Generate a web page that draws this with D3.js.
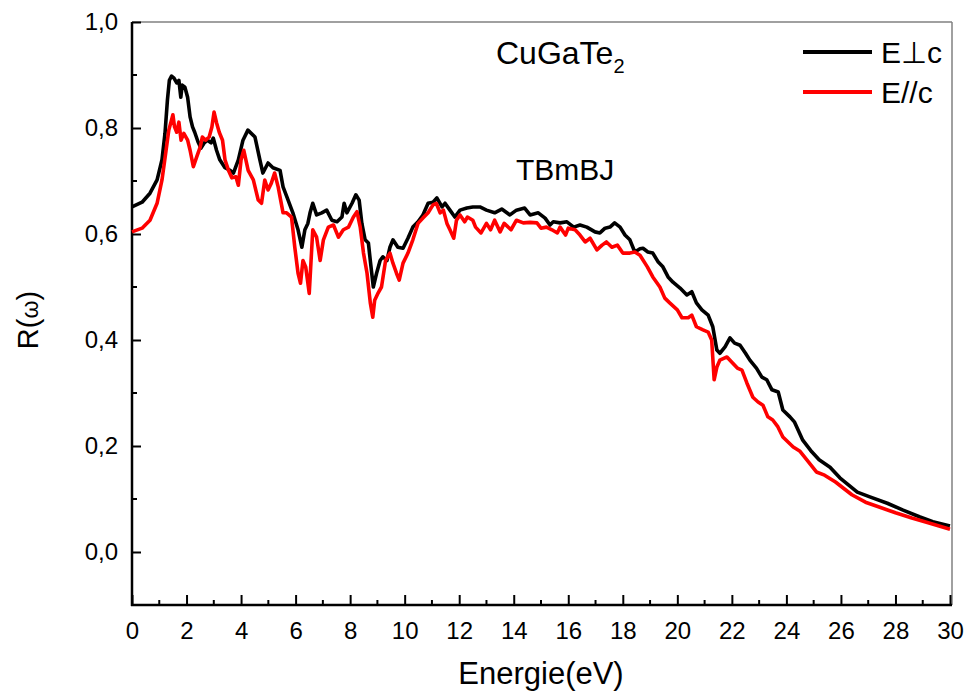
<!DOCTYPE html>
<html>
<head>
<meta charset="utf-8">
<script src="https://cdn.jsdelivr.net/npm/d3@7"></script>
<style>
  html, body { margin: 0; padding: 0; background: #fff; }
  svg text { font-family: "Liberation Sans", Arial, sans-serif; fill: #000; }
</style>
</head>
<body>
<svg id="chart" width="966" height="693"></svg>
<script>
// Reflectivity R(ω) of CuGaTe2 (TBmBJ), two polarisations
const ePerp = [0, 0.37, 0.66, 0.92, 1.1, 1.21, 1.3, 1.37, 1.45, 1.54, 1.64, 1.72, 1.79, 1.84, 1.94, 2.04, 2.13, 2.22, 2.3, 2.42, 2.53, 2.65, 2.77, 2.9, 2.98, 3.1, 3.22, 3.41, 3.6, 3.72, 3.9, 4.07, 4.25, 4.51, 4.69, 4.8, 4.99, 5.17, 5.43, 5.54, 5.68, 5.9, 6.09, 6.23, 6.34, 6.45, 6.53, 6.63, 6.77, 6.96, 7.14, 7.33, 7.52, 7.7, 7.78, 7.88, 8.07, 8.21, 8.33, 8.43, 8.55, 8.67, 8.75, 8.85, 8.97, 9.1, 9.2, 9.35, 9.46, 9.57, 9.75, 9.94, 10.12, 10.3, 10.49, 10.67, 10.86, 11.04, 11.18, 11.37, 11.48, 11.66, 11.84, 12.03, 12.28, 12.5, 12.76, 13.0, 13.3, 13.56, 13.86, 14.1, 14.4, 14.6, 14.9, 15.15, 15.33, 15.45, 15.7, 15.95, 16.2, 16.43, 16.68, 16.98, 17.16, 17.35, 17.53, 17.7, 17.9, 18.08, 18.26, 18.44, 18.63, 18.74, 18.92, 19.1, 19.3, 19.47, 19.66, 19.84, 20.1, 20.35, 20.53, 20.7, 20.9, 21.13, 21.3, 21.45, 21.56, 21.75, 21.93, 22.1, 22.3, 22.5, 22.66, 22.9, 23.1, 23.28, 23.47, 23.7, 23.87, 24.13, 24.3, 24.6, 24.93, 25.2, 25.6, 25.96, 26.6, 27.06, 27.7, 28.28, 28.9, 29.37, 30];
const rPerp = [0.651, 0.66, 0.677, 0.702, 0.74, 0.79, 0.853, 0.89, 0.898, 0.894, 0.885, 0.89, 0.858, 0.881, 0.877, 0.858, 0.821, 0.802, 0.792, 0.774, 0.762, 0.772, 0.777, 0.772, 0.781, 0.758, 0.74, 0.725, 0.72, 0.715, 0.74, 0.777, 0.796, 0.783, 0.74, 0.715, 0.734, 0.725, 0.72, 0.689, 0.67, 0.64, 0.608, 0.575, 0.608, 0.62, 0.64, 0.658, 0.636, 0.64, 0.645, 0.626, 0.623, 0.632, 0.658, 0.64, 0.658, 0.674, 0.664, 0.62, 0.589, 0.583, 0.545, 0.5, 0.526, 0.55, 0.557, 0.55, 0.575, 0.589, 0.575, 0.573, 0.592, 0.613, 0.623, 0.636, 0.658, 0.66, 0.668, 0.651, 0.658, 0.645, 0.632, 0.645, 0.649, 0.651, 0.651, 0.645, 0.64, 0.647, 0.636, 0.645, 0.649, 0.636, 0.64, 0.63, 0.617, 0.623, 0.621, 0.623, 0.613, 0.617, 0.613, 0.604, 0.602, 0.611, 0.613, 0.621, 0.613, 0.598, 0.589, 0.566, 0.572, 0.573, 0.566, 0.564, 0.547, 0.538, 0.519, 0.509, 0.498, 0.485, 0.491, 0.47, 0.457, 0.447, 0.425, 0.381, 0.375, 0.387, 0.404, 0.394, 0.39, 0.375, 0.362, 0.347, 0.33, 0.325, 0.306, 0.302, 0.268, 0.255, 0.245, 0.211, 0.189, 0.174, 0.16, 0.14, 0.113, 0.104, 0.092, 0.079, 0.066, 0.057, 0.049];

const ePar = [0, 0.37, 0.66, 0.92, 1.1, 1.25, 1.35, 1.45, 1.5, 1.56, 1.64, 1.72, 1.8, 1.9, 2.04, 2.13, 2.25, 2.37, 2.5, 2.58, 2.7, 2.83, 2.93, 3.01, 3.1, 3.2, 3.32, 3.41, 3.54, 3.66, 3.81, 3.9, 4.0, 4.1, 4.26, 4.45, 4.63, 4.75, 4.87, 4.99, 5.11, 5.23, 5.36, 5.54, 5.67, 5.85, 5.97, 6.09, 6.18, 6.27, 6.37, 6.5, 6.63, 6.77, 6.9, 7.02, 7.2, 7.39, 7.57, 7.75, 7.94, 8.12, 8.25, 8.37, 8.49, 8.62, 8.74, 8.83, 8.9, 9.03, 9.15, 9.3, 9.46, 9.57, 9.7, 9.8, 9.94, 10.12, 10.3, 10.49, 10.67, 10.86, 11.04, 11.16, 11.3, 11.42, 11.55, 11.66, 11.8, 11.9, 12.03, 12.2, 12.3, 12.5, 12.6, 12.8, 13.0, 13.15, 13.3, 13.5, 13.65, 13.9, 14.1, 14.35, 14.6, 14.85, 15.0, 15.2, 15.4, 15.6, 15.7, 15.9, 16.0, 16.25, 16.43, 16.62, 16.8, 17.05, 17.24, 17.4, 17.6, 17.8, 18.0, 18.26, 18.44, 18.63, 18.9, 19.1, 19.36, 19.54, 19.72, 20.0, 20.17, 20.4, 20.53, 20.7, 20.94, 21.13, 21.26, 21.35, 21.45, 21.56, 21.82, 22.0, 22.2, 22.37, 22.55, 22.77, 22.96, 23.14, 23.32, 23.5, 23.69, 23.87, 24.25, 24.5, 24.75, 25.1, 25.4, 25.8, 26.4, 26.9, 27.4, 28.0, 28.6, 29.2, 30];
const rPar = [0.604, 0.611, 0.626, 0.658, 0.702, 0.758, 0.796, 0.815, 0.825, 0.802, 0.792, 0.811, 0.777, 0.79, 0.777, 0.758, 0.727, 0.745, 0.764, 0.783, 0.777, 0.783, 0.802, 0.83, 0.81, 0.792, 0.777, 0.74, 0.72, 0.706, 0.708, 0.692, 0.74, 0.758, 0.72, 0.702, 0.664, 0.658, 0.702, 0.683, 0.696, 0.715, 0.689, 0.64, 0.64, 0.632, 0.575, 0.526, 0.507, 0.55, 0.538, 0.488, 0.608, 0.594, 0.55, 0.589, 0.613, 0.617, 0.594, 0.608, 0.613, 0.632, 0.642, 0.613, 0.564, 0.526, 0.47, 0.443, 0.475, 0.489, 0.5, 0.55, 0.564, 0.545, 0.526, 0.513, 0.545, 0.564, 0.589, 0.62, 0.63, 0.64, 0.655, 0.658, 0.64, 0.645, 0.62, 0.608, 0.592, 0.626, 0.636, 0.623, 0.632, 0.626, 0.613, 0.602, 0.62, 0.608, 0.626, 0.604, 0.62, 0.608, 0.626, 0.621, 0.622, 0.621, 0.611, 0.613, 0.608, 0.602, 0.613, 0.598, 0.611, 0.608, 0.598, 0.585, 0.592, 0.57, 0.579, 0.585, 0.575, 0.579, 0.564, 0.564, 0.566, 0.56, 0.538, 0.519, 0.5, 0.479, 0.47, 0.457, 0.442, 0.442, 0.447, 0.425, 0.419, 0.415, 0.4, 0.325, 0.349, 0.362, 0.368, 0.358, 0.347, 0.343, 0.319, 0.292, 0.283, 0.277, 0.255, 0.249, 0.236, 0.217, 0.198, 0.19, 0.174, 0.151, 0.145, 0.132, 0.108, 0.094, 0.085, 0.074, 0.064, 0.055, 0.043];

const xTicks = [0, 2, 4, 6, 8, 10, 12, 14, 16, 18, 20, 22, 24, 26, 28, 30];
const yTicks = [0.0, 0.2, 0.4, 0.6, 0.8, 1.0];
const seriesNames = ["E\u22A5c", "E//c"];
const seriesColors = ["#000000", "#ff0000"];

const svg = d3.select("#chart");
const plotLeft = 132, plotRight = 952, plotTop = 22, plotBottom = 605;

const x = d3.scaleLinear().domain([0, 30]).range([plotLeft, 950]);
const y = d3.scaleLinear().domain([-0.1, 1.0]).range([plotBottom, plotTop]);

// frame: grey top/right borders
svg.append("line").attr("x1", plotLeft).attr("x2", plotRight).attr("y1", plotTop).attr("y2", plotTop)
  .attr("stroke", "#808080").attr("stroke-width", 1.5);
svg.append("line").attr("x1", plotRight).attr("x2", plotRight).attr("y1", plotTop).attr("y2", plotBottom)
  .attr("stroke", "#808080").attr("stroke-width", 1.5);

const fmt = d => d3.format(".1f")(d).replace(".", ",");

// x axis (ticks pointing inward)
const xAxis = d3.axisBottom(x).tickValues(xTicks).tickSize(-10).tickSizeOuter(0).tickPadding(17);
const gx = svg.append("g").attr("transform", `translate(0,${plotBottom})`).call(xAxis);
gx.select(".domain").attr("stroke-width", 2.5).attr("d", `M${plotLeft - 1},0H${plotRight}`);
gx.selectAll(".tick line").attr("stroke-width", 2);
gx.selectAll(".tick text").attr("font-size", 24).attr("font-family", "Liberation Sans, Arial, sans-serif");
const xMinor = d3.range(1, 30, 2);
gx.selectAll(".minor").data(xMinor).enter().append("line").attr("class", "minor")
  .attr("x1", d => x(d)).attr("x2", d => x(d)).attr("y1", 0).attr("y2", -5)
  .attr("stroke", "#000").attr("stroke-width", 2);

// y axis (ticks pointing inward)
const yAxis = d3.axisLeft(y).tickValues(yTicks).tickSize(-9).tickSizeOuter(0).tickPadding(14).tickFormat(fmt);
const gy = svg.append("g").attr("transform", `translate(${plotLeft},0)`).call(yAxis);
gy.select(".domain").attr("stroke-width", 2.5).attr("d", `M0,${plotTop}V${plotBottom + 1}`);
gy.selectAll(".tick line").attr("stroke-width", 2);
gy.selectAll(".tick text").attr("font-size", 24).attr("font-family", "Liberation Sans, Arial, sans-serif");
const yMinor = [-0.1, 0.1, 0.3, 0.5, 0.7, 0.9];
gy.selectAll(".minor").data(yMinor).enter().append("line").attr("class", "minor")
  .attr("x1", 0).attr("x2", 5).attr("y1", d => y(d)).attr("y2", d => y(d))
  .attr("stroke", "#000").attr("stroke-width", 2);

// curves
const line = d3.line().x(d => x(d[0])).y(d => y(d[1]));
const perp = d3.zip(ePerp, rPerp);
const par = d3.zip(ePar, rPar);
svg.append("path").datum(perp).attr("d", line)
  .attr("fill", "none").attr("stroke", seriesColors[0]).attr("stroke-width", 3.6).attr("stroke-linejoin", "round");
svg.append("path").datum(par).attr("d", line)
  .attr("fill", "none").attr("stroke", seriesColors[1]).attr("stroke-width", 3.6).attr("stroke-linejoin", "round");

// axis titles
svg.append("text").attr("x", 541).attr("y", 684).attr("text-anchor", "middle")
  .attr("font-size", 31).text("Energie(eV)");
const yt = svg.append("text").attr("transform", "translate(38,320) rotate(-90)")
  .attr("text-anchor", "middle").attr("font-size", 29);
yt.append("tspan").text("R(");
yt.append("tspan").attr("font-size", 23).text("\u03C9");
yt.append("tspan").text(")");

// annotations
const t1 = svg.append("text").attr("x", 496).attr("y", 64).attr("font-size", 32);
t1.append("tspan").text("CuGaTe");
t1.append("tspan").attr("font-size", 20).attr("dy", 9).text("2");
svg.append("text").attr("x", 516).attr("y", 180).attr("font-size", 30).text("TBmBJ");

// legend
const legY = [52, 92];
seriesNames.forEach((name, i) => {
  svg.append("line").attr("x1", 803).attr("x2", 872).attr("y1", legY[i]).attr("y2", legY[i])
    .attr("stroke", seriesColors[i]).attr("stroke-width", 4);
  svg.append("text").attr("x", 881).attr("y", legY[i] + 11).attr("font-size", 30).text(name);
});
</script>
</body>
</html>
